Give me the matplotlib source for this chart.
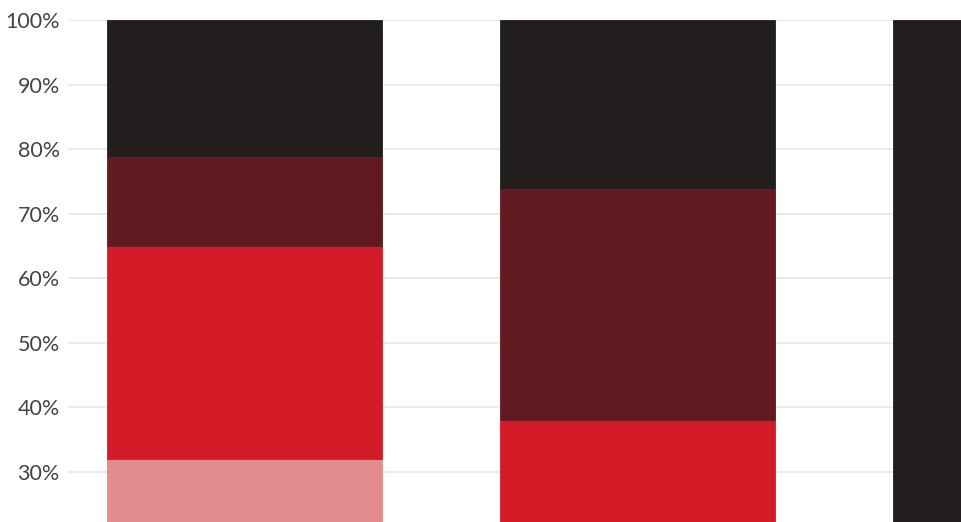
import matplotlib
matplotlib.use("Agg")
import matplotlib.pyplot as plt
from matplotlib.ticker import FuncFormatter

# data (percent shares, stacked bottom -> top)
categories = ["A", "B", "C"]
share_light = [32, 0, 0]
share_red = [33, 38, 0]
share_dark = [14, 36, 0]
share_black = [21, 26, 100]

colors = ["#e28c8e", "#d41c28", "#611a20", "#221e1e"]
series = [share_light, share_red, share_dark, share_black]

plt.rcParams["font.family"] = ["Lato", "DejaVu Sans"]

W, H = 962, 522
fig = plt.figure(figsize=(W / 100, H / 100), dpi=100)
ax = fig.add_axes([68 / W, 0, 1 - 68 / W, 1 - 20 / H])

x = list(range(len(categories)))
bottom = [0] * len(categories)
for vals, col in zip(series, colors):
    ax.bar(x, vals, bottom=bottom, width=0.70, color=col,
           edgecolor=col, linewidth=0.6, zorder=2)
    bottom = [b + v for b, v in zip(bottom, vals)]

ax.set_xlim(-0.449, 1.826)
ax.set_ylim(22.26, 100)
ax.set_yticks(range(30, 101, 10))
ax.yaxis.set_major_formatter(FuncFormatter(lambda v, _: f"{v:.0f}%"))
ax.grid(axis="y", color="#ebebeb", linewidth=1.5, zorder=1)
ax.set_axisbelow(True)
ax.set_xticks([])
for s in ax.spines.values():
    s.set_visible(False)
ax.tick_params(axis="y", length=0, pad=6, labelsize=15.5, labelcolor="#444444")

fig.savefig("out.png", dpi=100)
